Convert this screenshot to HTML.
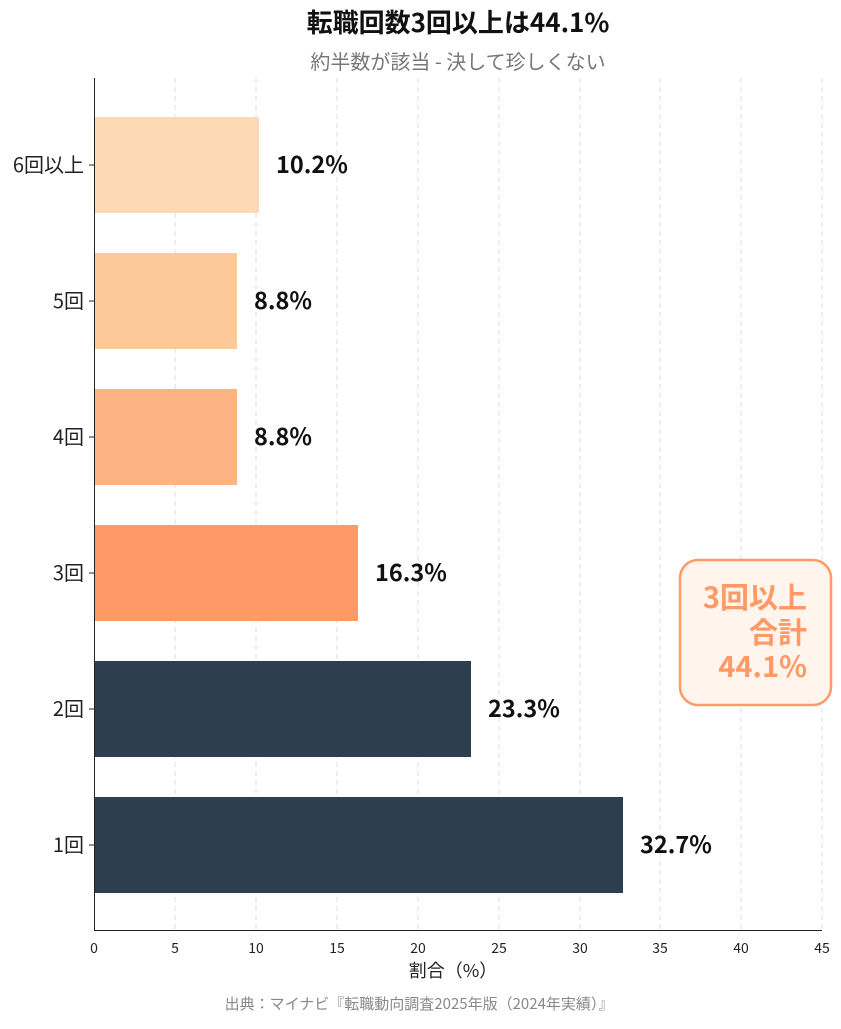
<!DOCTYPE html>
<html><head><meta charset="utf-8"><style>
body{margin:0;background:#fff;}
svg text{font-family:"Noto Sans CJK JP","Liberation Sans",sans-serif;}
</style></head><body>
<svg width="841" height="1024" viewBox="0 0 841 1024" xmlns="http://www.w3.org/2000/svg">
<rect width="841" height="1024" fill="#fff"/>
<text x="458" y="32" text-anchor="middle" font-size="26" font-weight="bold" fill="#111">転職回数3回以上は44.1%</text>
<text x="458" y="69" text-anchor="middle" font-size="20" fill="#777">約半数が該当 - 決して珍しくない</text>
<g stroke="#ddd" stroke-dasharray="5,4" stroke-width="1">
<line x1="175" y1="78" x2="175" y2="930"/><line x1="256" y1="78" x2="256" y2="930"/>
<line x1="337" y1="78" x2="337" y2="930"/><line x1="418" y1="78" x2="418" y2="930"/>
<line x1="499" y1="78" x2="499" y2="930"/><line x1="580" y1="78" x2="580" y2="930"/>
<line x1="660" y1="78" x2="660" y2="930"/><line x1="741" y1="78" x2="741" y2="930"/>
<line x1="822" y1="78" x2="822" y2="930"/>
</g>
<rect x="94" y="117" width="165" height="96" fill="#FDD9B5"/>
<rect x="94" y="253" width="143" height="96" fill="#FDC99A"/>
<rect x="94" y="389" width="143" height="96" fill="#FDB383"/>
<rect x="94" y="525" width="264" height="96" fill="#FF9966"/>
<rect x="94" y="661" width="377" height="96" fill="#2C3E50"/>
<rect x="94" y="797" width="529" height="96" fill="#2C3E50"/>
<g font-size="23.5" font-weight="bold" fill="#111">
<text x="276" y="173">10.2%</text><text x="254" y="309">8.8%</text>
<text x="254" y="445">8.8%</text><text x="375" y="581">16.3%</text>
<text x="488" y="717">23.3%</text><text x="640" y="853">32.7%</text>
</g>
<g font-size="20" fill="#222" text-anchor="end">
<text x="84" y="172">6回以上</text><text x="84" y="308">5回</text>
<text x="84" y="444">4回</text><text x="84" y="580">3回</text>
<text x="84" y="716">2回</text><text x="84" y="852">1回</text>
</g>
<g stroke="#222" stroke-width="1">
<line x1="94.5" y1="78" x2="94.5" y2="930"/><line x1="94" y1="930.5" x2="822" y2="930.5"/>
<line x1="89" y1="165" x2="94" y2="165"/><line x1="89" y1="301" x2="94" y2="301"/>
<line x1="89" y1="437" x2="94" y2="437"/><line x1="89" y1="573" x2="94" y2="573"/>
<line x1="89" y1="709" x2="94" y2="709"/><line x1="89" y1="845" x2="94" y2="845"/>
</g>
<g font-size="14" fill="#222" text-anchor="middle">
<text x="94" y="953">0</text><text x="175" y="953">5</text><text x="256" y="953">10</text>
<text x="337" y="953">15</text><text x="418" y="953">20</text><text x="499" y="953">25</text>
<text x="580" y="953">30</text><text x="660" y="953">35</text><text x="741" y="953">40</text>
<text x="822" y="953">45</text>
</g>
<text x="453" y="977" text-anchor="middle" font-size="18" fill="#222">割合（%）</text>
<text x="419" y="1009" text-anchor="middle" font-size="15" fill="#888">出典：マイナビ『転職動向調査2025年版（2024年実績）』</text>
<rect x="680" y="560" width="151" height="145" rx="18" fill="#FFF5EC" stroke="#FF9966" stroke-width="2.5"/>
<g font-size="29" font-weight="bold" fill="#FF9966" text-anchor="end">
<text x="807" y="608">3回以上</text><text x="807" y="643">合計</text><text x="807" y="677">44.1%</text>
</g>
</svg>
</body></html>
